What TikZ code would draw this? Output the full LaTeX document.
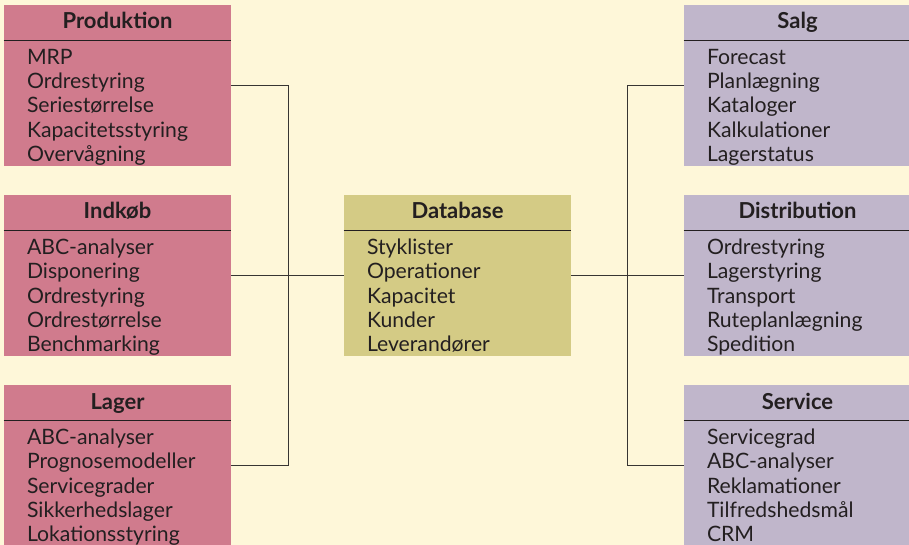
\documentclass[tikz,border=0pt]{standalone}
\usepackage{fontspec}
\setmainfont{Lato}
\usetikzlibrary{positioning,calc}

\definecolor{paper}{RGB}{254,247,217}
\definecolor{rose}{RGB}{208,123,141}
\definecolor{sand}{RGB}{212,203,133}
\definecolor{lilac}{RGB}{192,182,203}
\definecolor{ink}{RGB}{35,31,32}
\definecolor{wire}{RGB}{55,53,51}

\begin{document}
\begin{tikzpicture}[
    x=0.5pt, y=-0.5pt,
    panel/.style={rectangle, inner sep=0pt, minimum width=113.5pt, minimum height=80.5pt},
    head/.style={anchor=base, inner sep=0pt, text=ink, font=\bfseries\fontsize{11}{12}\selectfont},
    entry/.style={anchor=base west, inner sep=0pt, text=ink, font=\fontsize{10.6}{12}\selectfont},
    rule/.style={draw=ink, line width=0.7pt},
    link/.style={draw=wire, line width=0.85pt}
]

% Background
\fill[paper] (0,0) rectangle (909,545);
\useasboundingbox (0,0) rectangle (909,545);

% Left column
\node[panel, fill=rose] (prod) at (117.5,85.5) {};
\node[panel, fill=rose] (indk) at (117.5,275.5) {};
\node[panel, fill=rose] (lager) at (117.5,465.5) {};

% Database
\node[panel, fill=sand] (db) at (457.5,275.5) {};

% Right column
\node[panel, fill=lilac] (salg) at (797.5,85.5) {};
\node[panel, fill=lilac] (dist) at (797.5,275.5) {};
\node[panel, fill=lilac] (serv) at (797.5,465.5) {};

% Titles, rules and entries
\foreach \b/\t/\l in {
    prod/Produktion/{MRP,Ordrestyring,Seriestørrelse,Kapacitetsstyring,Overvågning},
    indk/Indkøb/{ABC-analyser,Disponering,Ordrestyring,Ordrestørrelse,Benchmarking},
    lager/Lager/{ABC-analyser,Prognosemodeller,Servicegrader,Sikkerhedslager,Lokationsstyring},
    db/Database/{Styklister,Operationer,Kapacitet,Kunder,Leverandører},
    salg/Salg/{Forecast,Planlægning,Kataloger,Kalkulationer,Lagerstatus},
    dist/Distribution/{Ordrestyring,Lagerstyring,Transport,Ruteplanlægning,Spedition},
    serv/Service/{Servicegrad,ABC-analyser,Reklamationer,Tilfredshedsmål,CRM}} {
  \node[head] (\b-t) at ([yshift=-12.2pt]\b.north) {\t};
  \draw[rule] ([yshift=-18pt]\b.north west) -- ([yshift=-18pt]\b.north east);
  \foreach \e [count=\i] in \l {
    \node[entry] (\b-\i) at ([xshift=11.5pt, yshift={-30pt-(\i-1)*12.1pt}]\b.north west) {\e};
  }
}

% Connectors
\draw[link] (prod.east) -- ++(57,0) |- (lager.east);
\draw[link] (indk.east) -- (db.west);
\draw[link] (db.east) -- (dist.west);
\draw[link] (salg.west) -- ++(-56,0) |- (serv.west);

\end{tikzpicture}
\end{document}
